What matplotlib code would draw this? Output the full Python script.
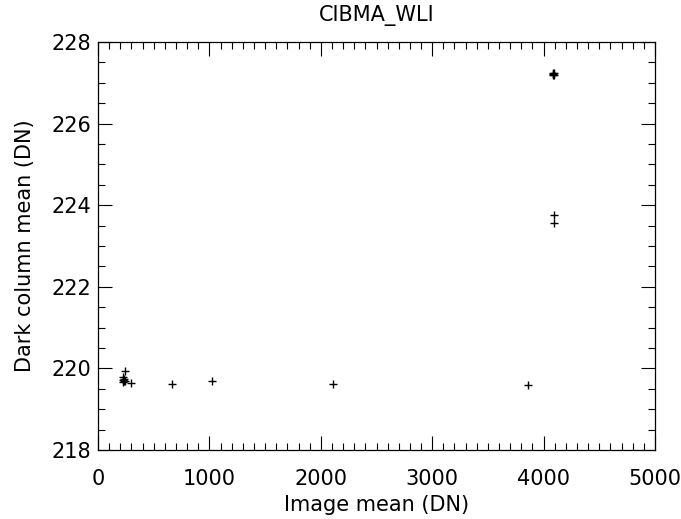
import matplotlib
matplotlib.use("Agg")
import matplotlib.pyplot as plt
from matplotlib.ticker import MultipleLocator

image_mean = [222, 228, 232, 236, 240, 226, 242, 296, 664, 1023, 2110, 3860,
              4080, 4088, 4094, 4085, 4090, 4092, 4090]
dark_mean = [219.72, 219.78, 219.68, 219.75, 219.70, 219.66, 219.94, 219.64, 219.62, 219.69, 219.62, 219.59,
             227.22, 227.25, 227.20, 227.18, 223.76, 223.56, 227.24]

plt.rcParams['font.family'] = ['DejaVu Sans']
fig = plt.figure(figsize=(6.81, 5.19), dpi=100)
ax = fig.add_axes([98/681, 69/519, 557/681, 408/519])
ax.plot(image_mean, dark_mean, linestyle='none', marker='+', color='black',
        markersize=5.5, markeredgewidth=1.0)
ax.set_xlim(0, 5000)
ax.set_ylim(218, 228)
ax.xaxis.set_major_locator(MultipleLocator(1000))
ax.xaxis.set_minor_locator(MultipleLocator(100))
ax.yaxis.set_major_locator(MultipleLocator(2))
ax.yaxis.set_minor_locator(MultipleLocator(0.5))
ax.tick_params(which='both', direction='in', top=True, right=True, width=0.8,
               labelsize=15, colors='black')
ax.tick_params(which='major', length=10)
ax.tick_params(which='minor', length=5)
ax.tick_params(axis='x', which='major', pad=14)
ax.tick_params(axis='y', which='major', pad=5)
for s in ax.spines.values():
    s.set_linewidth(0.9)
ax.set_xlabel('Image mean (DN)', fontsize=15, labelpad=4)
ax.set_ylabel('Dark column mean (DN)', fontsize=15, labelpad=12)
ax.set_title('CIBMA_WLI', fontsize=15, pad=15)
fig.savefig('out.png', dpi=100)
